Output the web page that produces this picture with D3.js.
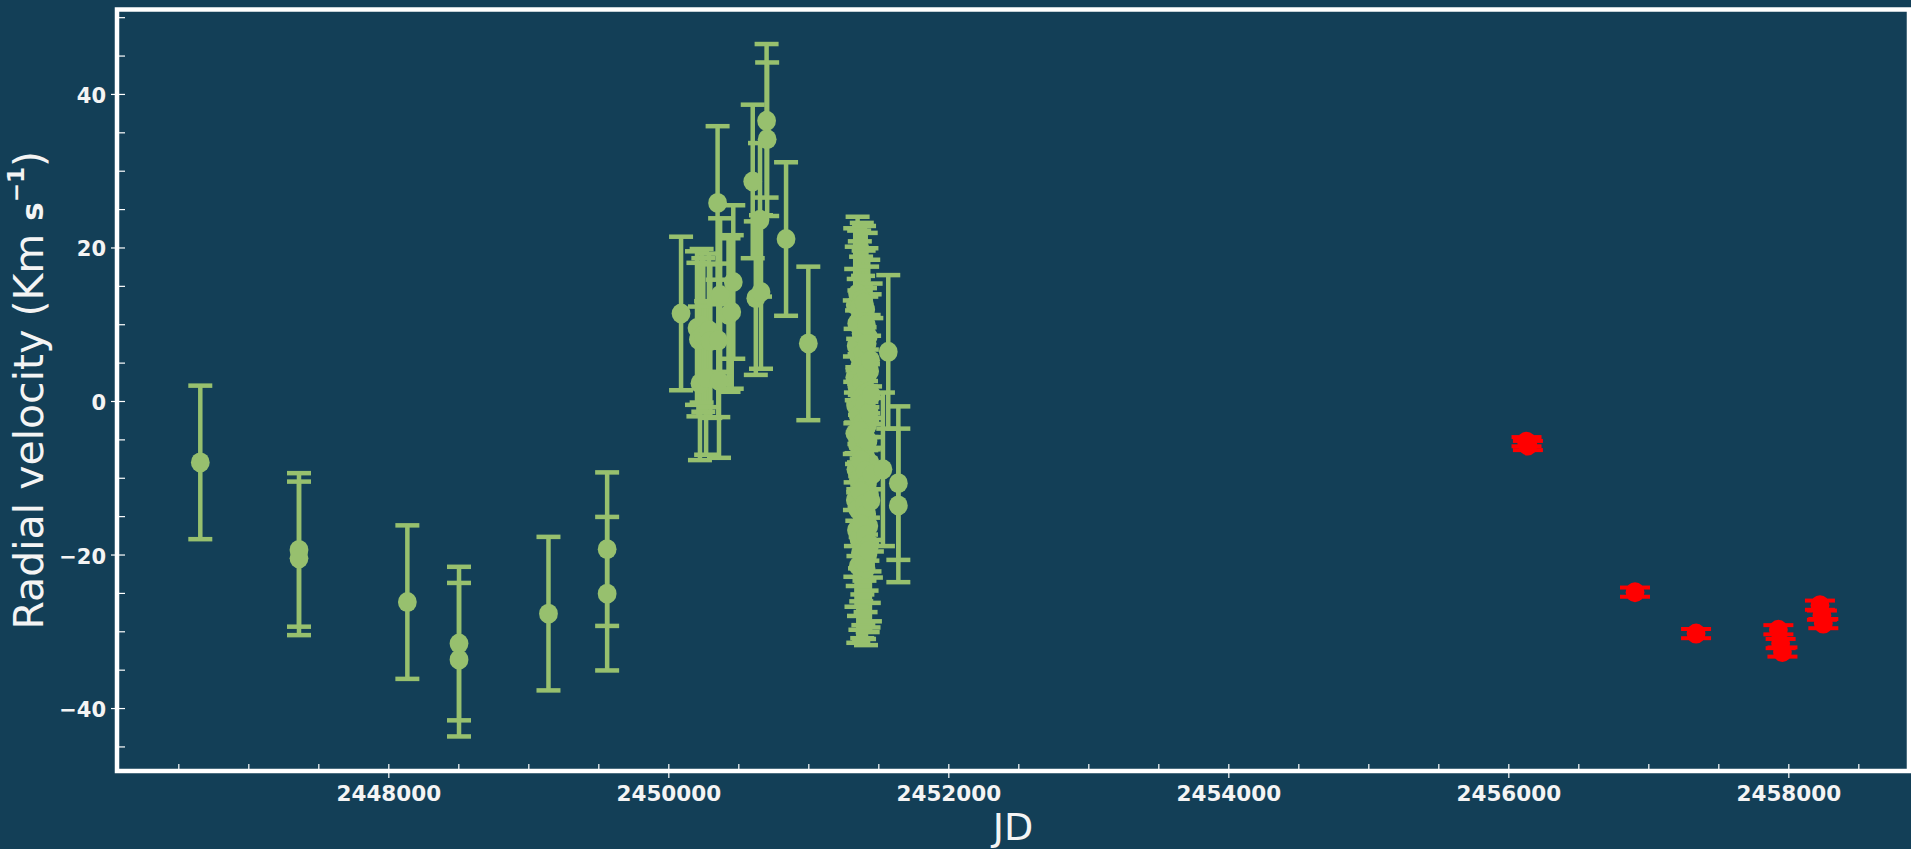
<!DOCTYPE html>
<html><head><meta charset="utf-8">
<script src="https://cdn.jsdelivr.net/npm/d3@7"></script>
<style>html,body{margin:0;padding:0;background:#133f57;overflow:hidden}</style>
</head><body><svg id="chart" width="1911" height="849"></svg>
<script>
// ---- data ----
const greenJD = [
  2446657, 2447362, 2447362, 2448136, 2448505, 2448505, 2449144, 2449563, 2449563,
  2450091, 2450205, 2450215, 2450226, 2450238, 2450250, 2450270, 2450290, 2450300, 2450352,
  2450357, 2450362, 2450370, 2450430, 2450453, 2450464, 2450603, 2450625, 2450655,
  2450662, 2450702, 2450706, 2450841, 2451000,
  2451335, 2451352, 2451368, 2451382, 2451395, 2451410, 2451428, 2451342, 2451360, 2451377,
  2451391, 2451405, 2451420, 2451438, 2451332, 2451348, 2451365, 2451381, 2451399, 2451414,
  2451431, 2451445, 2451338, 2451356, 2451372, 2451388, 2451402, 2451418, 2451434, 2451450,
  2451333, 2451350, 2451366, 2451384, 2451397, 2451412, 2451426, 2451441, 2451340, 2451358,
  2451374, 2451390, 2451406, 2451422, 2451437, 2451454, 2451336, 2451353, 2451369, 2451386,
  2451401, 2451416, 2451432, 2451447, 2451344, 2451362, 2451378, 2451393, 2451409, 2451424,
  2451440, 2451357, 2451385, 2451412, 2451346, 2451363, 2451398, 2451415, 2451372, 2451398,
  2451430, 2451533, 2451571, 2451643, 2451643
];
const greenRV = [
  -8.0, -19.4, -20.5, -26.2, -31.6, -33.7, -27.7, -19.3, -25.1,
  11.4, 9.5, 8.0, 2.3, 9.8, 8.6, 3.0, 9.2, 7.8, 25.8,
  7.9, 2.6, 13.8, 11.2, 11.6, 15.5, 28.6, 13.4, 23.6,
  14.2, 36.5, 34.1, 21.1, 7.5,
  12.5, 14.0, 10.8, 13.2, 9.6, 11.9, 8.4, 7.2, 5.9, 8.8,
  6.3, 4.7, 7.5, 3.9, 3.1, 1.8, 4.4, 2.5, 0.9, 3.6,
  1.2, 5.3, -0.6, -1.9, 0.3, -2.8, -0.4, -3.3, -1.5, 0.8,
  -4.2, -5.6, -3.9, -6.8, -4.9, -7.4, -5.2, -8.1, -8.9, -10.2,
  -7.7, -11.3, -9.1, -10.8, -12.2, -9.6, -12.9, -14.1, -11.8, -15.2,
  -13.4, -14.7, -16.3, -13.0, -16.8, -18.0, -16.1, -19.2, -17.5, -20.1,
  -18.7, -21.5, -20.9, -21.8, 10.1, 12.2, 12.8, 9.9, -19.8, -21.0,
  -19.5, -8.9, 6.4, -10.7, -13.6
];
const greenErr = 10;

const redJD = [2456130, 2456140, 2456905, 2457341, 2457929, 2457945, 2457958, 2458226, 2458240, 2458250];
const redRV = [-5.3, -5.8, -24.9, -30.3, -29.8, -31.6, -32.7, -26.6, -27.9, -29.0];
const redErr = [0.6, 0.6, 0.6, 0.6, 0.6, 0.6, 0.6, 0.6, 0.6, 0.6];

const xTicks = [2448000, 2450000, 2452000, 2454000, 2456000, 2458000];
const yTicks = [-40, -20, 0, 20, 40];
const xMinorTicks = [2446500, 2447000, 2447500, 2448500, 2449000, 2449500, 2450500, 2451000, 2451500,
  2452500, 2453000, 2453500, 2454500, 2455000, 2455500, 2456500, 2457000, 2457500, 2458500];
const yMinorTicks = [-45, -35, -30, -25, -15, -10, -5, 5, 10, 15, 25, 30, 35, 45, 50];

// ---- layout ----
const W = 1911, H = 849;
const L = 117, R = 1909, T = 9.5, B = 771;
const BG = "#133f57", GREEN = "#97c06e", RED = "#ff0000", FG = "#ffffff", TXT = "#f4f4f4";

const svg = d3.select("#chart");
svg.append("rect").attr("width", W).attr("height", H).attr("fill", BG);

const x = d3.scaleLinear().domain([2446062, 2458862]).range([L, R]);
const y = d3.scaleLinear().domain([-48.2, 51.0]).range([B, T]);

const plot = svg.append("g");

function drawSeries(jd, rv, errFn, color, capW, lw, rx, ry) {
  const data = jd.map((d, i) => ({ jd: d, rv: rv[i], e: errFn(i) }));
  const g = plot.append("g");
  g.selectAll("line.eb").data(data).join("line").attr("class", "eb")
    .attr("x1", d => x(d.jd)).attr("x2", d => x(d.jd))
    .attr("y1", d => y(d.rv - d.e)).attr("y2", d => y(d.rv + d.e))
    .attr("stroke", color).attr("stroke-width", lw);
  [-1, 1].forEach(s => {
    g.selectAll("line.cap" + (s > 0 ? "t" : "b")).data(data).join("line")
      .attr("class", "cap" + (s > 0 ? "t" : "b"))
      .attr("x1", d => x(d.jd) - capW / 2).attr("x2", d => x(d.jd) + capW / 2)
      .attr("y1", d => y(d.rv + s * d.e)).attr("y2", d => y(d.rv + s * d.e))
      .attr("stroke", color).attr("stroke-width", lw);
  });
  g.selectAll("ellipse").data(data).join("ellipse")
    .attr("cx", d => x(d.jd)).attr("cy", d => y(d.rv)).attr("rx", rx).attr("ry", ry).attr("fill", color);
}
drawSeries(greenJD, greenRV, () => greenErr, GREEN, 24, 4.5, 9.4, 10);
drawSeries(redJD, redRV, i => redErr[i], RED, 30, 4, 9.4, 10);

// ---- axes ----
const gx = svg.append("g").attr("transform", `translate(0,${B})`)
  .call(d3.axisBottom(x).tickValues(xTicks).tickFormat(d3.format("d")).tickSizeOuter(0));
gx.selectAll(".tick line").attr("y1", -7).attr("y2", 7).attr("stroke", FG).attr("stroke-width", 1.2);
gx.selectAll(".tick text").attr("y", 29.5).attr("dy", null).attr("fill", TXT)
  .attr("font-family", "DejaVu Sans").attr("font-weight", "bold").attr("font-size", "21.5px");
gx.select(".domain").remove();

const gxm = svg.append("g").attr("transform", `translate(0,${B})`)
  .call(d3.axisBottom(x).tickValues(xMinorTicks).tickFormat("").tickSizeOuter(0));
gxm.selectAll(".tick line").attr("y1", -7).attr("y2", 0).attr("stroke", FG).attr("stroke-width", 1.2);
gxm.select(".domain").remove();

const gy = svg.append("g").attr("transform", `translate(${L},0)`)
  .call(d3.axisLeft(y).tickValues(yTicks).tickFormat(d3.format("d")).tickSizeOuter(0));
gy.selectAll(".tick line").attr("x1", -6).attr("x2", 8).attr("stroke", FG).attr("stroke-width", 1.2);
gy.selectAll(".tick text").attr("x", -11).attr("dy", "8.5px").attr("fill", TXT)
  .attr("font-family", "DejaVu Sans").attr("font-weight", "bold").attr("font-size", "21px");
gy.select(".domain").remove();

const gym = svg.append("g").attr("transform", `translate(${L},0)`)
  .call(d3.axisLeft(y).tickValues(yMinorTicks).tickFormat("").tickSizeOuter(0));
gym.selectAll(".tick line").attr("x1", 0).attr("x2", 8).attr("stroke", FG).attr("stroke-width", 1.2);
gym.select(".domain").remove();

// spines
svg.append("rect").attr("x", L).attr("y", T).attr("width", R - L).attr("height", B - T)
  .attr("fill", "none").attr("stroke", FG).attr("stroke-width", 4.5);

// axis labels
svg.append("text").attr("x", (L + R) / 2).attr("y", 840).attr("text-anchor", "middle")
  .attr("font-family", "DejaVu Sans").attr("font-size", "38px").attr("fill", TXT).text("JD");

const yl = svg.append("text").attr("transform", `translate(43,${(T + B) / 2}) rotate(-90)`)
  .attr("text-anchor", "middle").attr("font-family", "DejaVu Sans").attr("font-size", "41px").attr("fill", TXT);
yl.append("tspan").text("Radial velocity (Km ");
yl.append("tspan").attr("font-weight", "bold").attr("font-size", "31px").text("s");
yl.append("tspan").attr("font-weight", "bold").attr("font-size", "23px").attr("dy", "-19").text("\u22121");
yl.append("tspan").attr("dy", "19").text(")");
</script></body></html>
